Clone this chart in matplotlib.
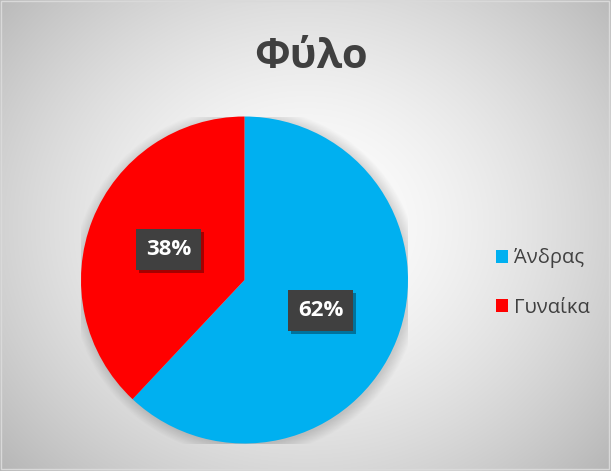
import numpy as np
import matplotlib
matplotlib.use("Agg")
import matplotlib.pyplot as plt
from matplotlib.patches import Circle, Rectangle

plt.rcParams["font.family"] = ["Open Sans", "DejaVu Sans"]

title = "Φύλο"
categories = ["Άνδρας", "Γυναίκα"]
shares = [62, 38]
colors = ["#00B0F0", "#FF0000"]
text_gray = "#404040"

W, H = 611, 471
fig = plt.figure(figsize=(W / 100, H / 100), dpi=100)

# radial background gradient, white in the middle fading to light gray
bg = fig.add_axes([0, 0, 1, 1], zorder=0)
yy, xx = np.mgrid[0:H, 0:W]
d = np.hypot((xx - 305) / 330, (yy - 225) / 290)
shade = 1.0 - 0.20 * np.clip(d, 0, 1.3) ** 1.6
bg.imshow(np.dstack([shade] * 3), extent=[0, W, H, 0], aspect="auto")
bg.set_xlim(0, W); bg.set_ylim(H, 0)
bg.axis("off")
bg.add_patch(Rectangle((1, 1), W - 3, H - 3, fill=False, ec="#d9d9d9", lw=1))

fig.text(311 / W, 1 - 58 / H, title, ha="center", va="center",
         fontsize=30, fontweight="bold", color=text_gray)

# pie axes placed so the circle sits at (244, 280) px with radius 163 px
cx, cy, r = 244.5, 280, 163.5
ax = fig.add_axes([(cx - r) / W, (H - cy - r) / H, 2 * r / W, 2 * r / H], zorder=1)

# soft drop shadow under the pie
for k in range(12):
    ax.add_patch(Circle((0.01, -0.01), 1.0 + k * 0.006, color="black",
                        alpha=0.012, lw=0, zorder=0))

wedges, _ = ax.pie(shares, colors=colors, startangle=90, counterclock=False,
                   radius=1, wedgeprops=dict(lw=0))
for w in wedges:
    w.set_zorder(2)
ax.set_xlim(-1, 1); ax.set_ylim(-1, 1)
ax.axis("off")

# data labels live on an overlay in pixel coordinates so their shadows sit above the pie
over = fig.add_axes([0, 0, 1, 1], zorder=2)
over.set_xlim(0, W); over.set_ylim(0, H)
over.axis("off")

labels = []
for w, val in zip(wedges, shares):
    ang = np.deg2rad((w.theta1 + w.theta2) / 2)
    px, py = ax.transData.transform((0.5 * np.cos(ang), 0.5 * np.sin(ang)))
    t = over.text(px, py, f"{val}%", ha="center", va="center", fontsize=16,
                  fontweight="bold", color="white", zorder=4,
                  bbox=dict(boxstyle="square,pad=0.45", fc=text_gray, ec="none"))
    labels.append(t)

fig.canvas.draw()
for t in labels:
    ext = t.get_bbox_patch().get_window_extent()
    over.add_patch(Rectangle((ext.x0 + 3, ext.y0 - 3), ext.width, ext.height,
                             fc="black", ec="none", alpha=0.35, zorder=3))

handles = [Rectangle((0, 0), 1, 1, fc=c, ec="none") for c in colors]
fig.legend(handles, categories, loc="center left",
           bbox_to_anchor=(478 / W, 1 - 283 / H), frameon=False,
           fontsize=14.5, labelcolor=text_gray, handlelength=0.6,
           handleheight=0.6, handletextpad=0.3, labelspacing=1.45)

fig.savefig("out.png", dpi=100)
